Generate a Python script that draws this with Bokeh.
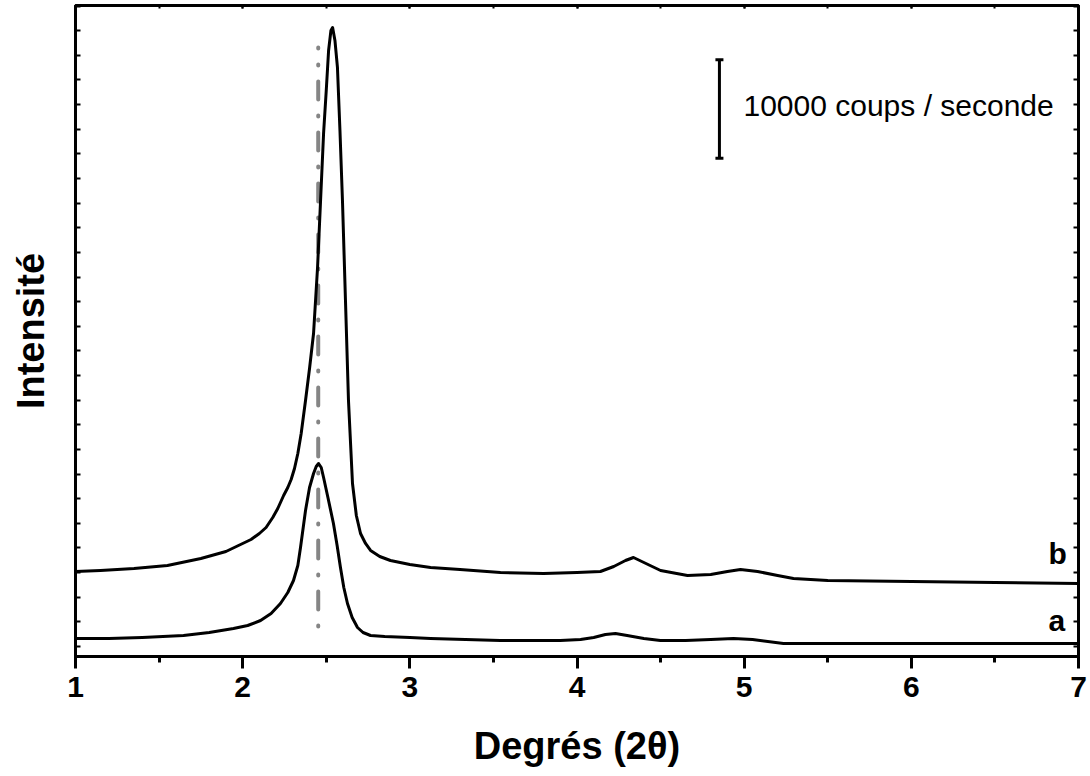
from bokeh.plotting import figure
from bokeh.models import (Range1d, LinearAxis, SingleIntervalTicker, Label,
                          Whisker, TeeHead, ColumnDataSource, CustomJSTickFormatter)
from bokeh.embed import file_html
from bokeh.resources import INLINE

# ---------------- data ----------------
x_a = [1.00, 1.20, 1.40, 1.646, 1.80, 1.945, 2.03, 2.107, 2.17, 2.226, 2.27, 2.304,
       2.33, 2.346, 2.376, 2.40, 2.424, 2.44, 2.454, 2.47, 2.484, 2.51, 2.543, 2.565,
       2.585, 2.605, 2.627, 2.655, 2.687, 2.72, 2.765, 2.85, 3.0, 3.124, 3.542, 3.9,
       4.021, 4.10, 4.17, 4.23, 4.30, 4.40, 4.499, 4.65, 4.8, 4.936, 5.05, 5.235,
       5.6, 6.0, 6.5, 7.0]
y_a = [812, 812, 914, 1117, 1421, 1827, 2132, 2639, 3350, 4365, 5481, 6699,
       8222, 10049, 13804, 16139, 17560, 18270, 18575, 18169, 17154, 15124, 12485, 10252,
       8019, 5989, 4365, 2944, 1929, 1421, 1117, 1015, 914, 812, 609, 609,
       711, 914, 1218, 1320, 1117, 812, 609, 609, 711, 812, 711, 305,
       305, 305, 305, 305]

x_b = [1.00, 1.15, 1.35, 1.55, 1.75, 1.90, 2.00, 2.05, 2.10, 2.14, 2.18, 2.21,
       2.245, 2.27, 2.29, 2.31, 2.33, 2.35, 2.376, 2.40, 2.424, 2.448, 2.466, 2.484,
       2.50, 2.514, 2.528, 2.538, 2.552, 2.567, 2.582, 2.597, 2.615, 2.633, 2.657, 2.68,
       2.705, 2.735, 2.765, 2.82, 2.884, 3.0, 3.124, 3.3, 3.542, 3.8, 4.0, 4.14,
       4.22, 4.29, 4.338, 4.40, 4.5, 4.661, 4.8, 4.9, 4.978, 5.08, 5.2, 5.295,
       5.5, 6.0, 6.5, 7.0]
y_b = [7612, 7714, 7917, 8222, 8932, 9643, 10455, 10861, 11470, 12079, 13094, 14007,
       15327, 16139, 16951, 18068, 19591, 21621, 24969, 28217, 31770, 38469, 45269, 52070,
       56434, 60494, 62524, 62829, 61509, 58769, 52374, 45269, 35119, 24969, 16545, 13297,
       11470, 10455, 9744, 9135, 8729, 8323, 8019, 7816, 7511, 7410, 7511, 7612,
       8120, 8729, 9034, 8526, 7714, 7207, 7308, 7612, 7816, 7612, 7207, 6902,
       6699, 6598, 6496, 6395]

ref_x = [2.452, 2.452]          # reference peak position (dash-dot line)
ref_y = [60800, 609]

series_names = ["a", "b"]
name_pos_x = [6.82, 6.82]
name_pos_y = [2640, 9440]

scale_x = 4.852
scale_lo = 49550
scale_counts = 10000
scale_text = "10000 coups / seconde"

x_label = "Degrés (2θ)"
y_label = "Intensité"

FONT = "Liberation Sans"

# ---------------- figure ----------------
p = figure(width=1090, height=776, output_backend="svg", toolbar_location=None,
           x_range=Range1d(1, 7), y_range=Range1d(-1015, 65060),
           min_border_left=75, min_border_right=12, min_border_top=5, min_border_bottom=120)
p.grid.visible = False
p.outline_line_color = "black"
p.outline_line_width = 3
p.outline_line_alpha = 1
p.background_fill_color = "white"
p.border_fill_color = "white"

empty = CustomJSTickFormatter(code="return ''")

xa = p.xaxis[0]
xa.ticker = SingleIntervalTicker(interval=1, num_minor_ticks=2)
xa.axis_line_width = 3
xa.axis_line_color = "black"
xa.major_tick_out = 12
xa.major_tick_in = 0
xa.minor_tick_out = 6
xa.minor_tick_in = 0
xa.major_tick_line_width = 3
xa.minor_tick_line_width = 3
xa.major_label_standoff = 8
xa.major_label_text_font = FONT
xa.major_label_text_font_style = "bold"
xa.major_label_text_font_size = "30px"
xa.major_label_text_color = "black"
xa.axis_label = x_label
xa.axis_label_text_font = FONT
xa.axis_label_text_font_style = "bold"
xa.axis_label_text_font_size = "38px"
xa.axis_label_text_color = "black"
xa.axis_label_standoff = 25

ya = p.yaxis[0]
ya.ticker = SingleIntervalTicker(interval=2500, num_minor_ticks=0)
ya.formatter = empty
ya.axis_line_width = 3
ya.axis_line_color = "black"
ya.major_tick_in = 5
ya.major_tick_out = 0
ya.major_tick_line_width = 2
ya.minor_tick_in = 0
ya.minor_tick_out = 0
ya.major_label_standoff = 0
ya.major_label_text_font_size = "0px"
ya.axis_label = y_label
ya.axis_label_text_font = FONT
ya.axis_label_text_font_style = "bold"
ya.axis_label_text_font_size = "38px"
ya.axis_label_text_color = "black"
ya.axis_label_standoff = 24

ra = LinearAxis(ticker=SingleIntervalTicker(interval=2500, num_minor_ticks=0),
                formatter=empty, major_tick_in=5, major_tick_out=0, major_tick_line_width=2,
                minor_tick_in=0, minor_tick_out=0, major_label_standoff=0,
                major_label_text_font_size="0px", axis_line_width=3)
p.add_layout(ra, "right")

ta = LinearAxis(ticker=SingleIntervalTicker(interval=1, num_minor_ticks=2),
                formatter=empty, major_tick_in=3, major_tick_out=0, major_tick_line_width=2,
                minor_tick_in=3, minor_tick_out=0, minor_tick_line_width=2,
                major_label_standoff=0, major_label_text_font_size="0px", axis_line_width=3)
p.add_layout(ta, "above")

# reference dash-dot line
p.line(ref_x, ref_y, line_color="#858585", line_width=4, line_dash="18 16 1 16",
       line_dash_offset=17, line_cap="round")

# curves
p.line(x_a, y_a, line_color="black", line_width=3, line_join="round")
p.line(x_b, y_b, line_color="black", line_width=3, line_join="round")

# curve names
for name, nx, ny in zip(series_names, name_pos_x, name_pos_y):
    p.add_layout(Label(x=nx, y=ny, text=name, text_font=FONT, text_font_style="bold",
                       text_font_size="30px", text_color="black", text_baseline="alphabetic"))

# scale bar
src = ColumnDataSource(dict(base=[scale_x], lower=[scale_lo], upper=[scale_lo + scale_counts]))
w = Whisker(base="base", lower="lower", upper="upper", source=src, dimension="height",
            line_width=3, line_color="black",
            lower_head=TeeHead(size=8, line_width=3, line_color="black"),
            upper_head=TeeHead(size=8, line_width=3, line_color="black"))
p.add_layout(w)
p.add_layout(Label(x=scale_x + 0.144, y=scale_lo + 0.537 * scale_counts, text=scale_text,
                   text_font=FONT, text_font_size="30px", text_color="black",
                   text_baseline="alphabetic"))

open("out.html", "w").write(file_html(p, INLINE))
